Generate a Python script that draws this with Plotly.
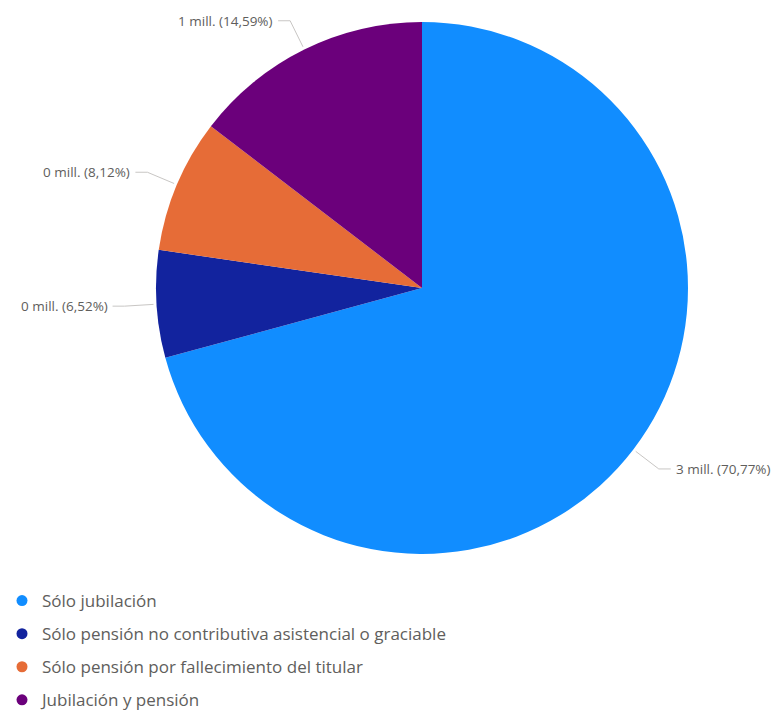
import math

import plotly.graph_objects as go

# page is 781x711 but the html body adds an 8px margin
PAD = 8
W, H = 781 - PAD, 711 - PAD

# %% data
categories = [
    "Sólo jubilación",
    "Sólo pensión no contributiva asistencial o graciable",
    "Sólo pensión por fallecimiento del titular",
    "Jubilación y pensión",
]
millions = [2.9723, 0.2738, 0.3410, 0.6128]
colors = ["#118DFF", "#12239E", "#E66C37", "#6B007B"]

# pie geometry in figure pixels
cx, cy, r = 422 - PAD, 288 - PAD, 266

fig = go.Figure()
fig.add_trace(
    go.Pie(
        labels=categories,
        values=millions,
        marker=dict(colors=colors, line=dict(width=0)),
        sort=False,
        direction="clockwise",
        rotation=0,
        textinfo="none",
        hoverinfo="label+value+percent",
        showlegend=False,
        domain=dict(x=[(cx - r) / W, (cx + r) / W], y=[(H - cy - r) / H, (H - cy + r) / H]),
    )
)

# legend entries with round markers
for name, col in zip(categories, colors):
    fig.add_trace(
        go.Scatter(
            x=[None], y=[None], mode="markers", name=name, legendgroup=name,
            marker=dict(color=col, size=11, symbol="circle"),
        )
    )


def px2paper(x, y):
    return x / W, 1 - y / H


# leader lines + labels, placed from the slice mid-angles
total = sum(millions)
cum = 0.0
for v in millions:
    mid = (cum + v / 2) / total * 2 * math.pi
    cum += v
    sx, sy = math.sin(mid), -math.cos(mid)
    x0, y0 = cx + (r + 3) * sx, cy + (r + 3) * sy
    x1, y1 = cx + (r + 32) * sx, cy + (r + 32) * sy
    side = 1 if sx >= 0 else -1
    x2 = x1 + side * 12
    pts = [px2paper(x0, y0), px2paper(x1, y1), px2paper(x2, y1)]
    path = "M {} {} L {} {} L {} {}".format(*[c for p in pts for c in p])
    fig.add_shape(type="path", path=path, xref="paper", yref="paper",
                  line=dict(color="#C8C6C4", width=1))
    tx, ty = px2paper(x2 + side * 3, y1)
    pct = "{:.2f}".format(v / total * 100).replace(".", ",")
    label = "{:.0f} mill. ({}%)".format(v, pct)
    fig.add_annotation(
        x=tx, y=ty, xref="paper", yref="paper", text=label, showarrow=False,
        xanchor="left" if side > 0 else "right", yanchor="middle",
        font=dict(size=13.5, color="#605E5C"),
    )

fig.update_layout(
    width=W,
    height=H,
    margin=dict(l=0, r=0, t=0, b=0, autoexpand=False),
    paper_bgcolor="white",
    plot_bgcolor="white",
    font=dict(family="Open Sans, Noto Sans, sans-serif", color="#605E5C"),
    xaxis=dict(visible=False),
    yaxis=dict(visible=False),
    legend=dict(
        x=-6 / W, y=1 - 575 / H, xanchor="left", yanchor="top",
        font=dict(size=17, color="#605E5C"),
        tracegroupgap=8, itemwidth=30,
        bgcolor="rgba(0,0,0,0)",
    ),
)

fig.write_html("out.html")
